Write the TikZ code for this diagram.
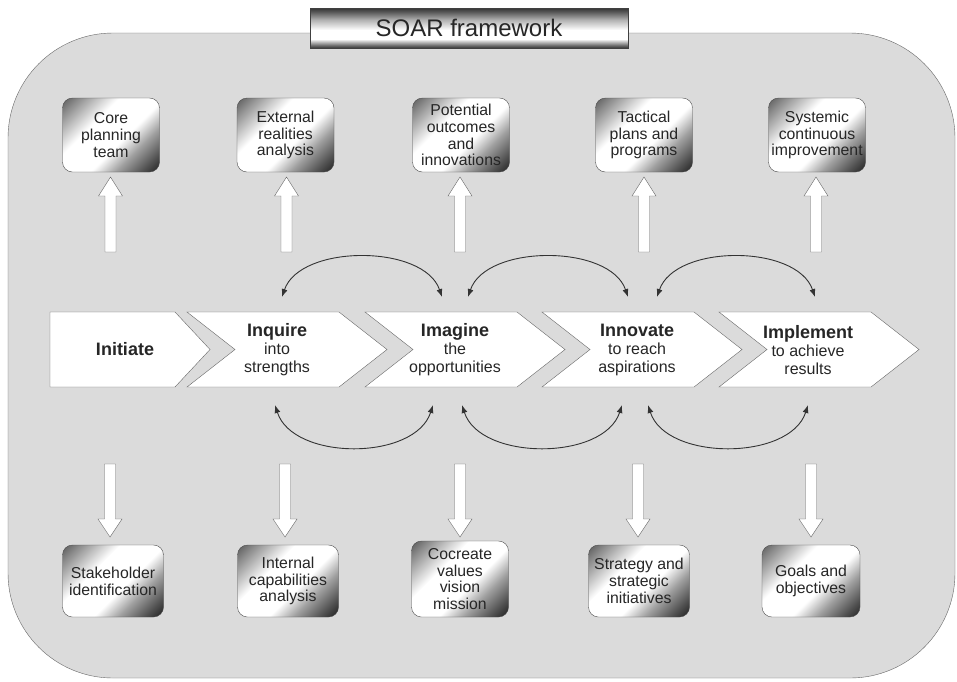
\documentclass[tikz,border=0pt]{standalone}
\usepackage{fontspec}
\setmainfont{Liberation Sans}
\usetikzlibrary{arrows.meta}

\colorlet{soarBg}   {black!14}
\colorlet{soarEdge} {black!60}
\colorlet{soarInk}  {black!85}

% diagonal metal for the boxes (runs corner to corner, 121bp)
\pgfdeclarehorizontalshading{metal}{130bp}{color(0bp)=(black!65); color(12bp)=(black!45);
  color(40bp)=(white); color(72bp)=(white); color(90bp)=(black!38); color(108bp)=(black!68);
  color(121bp)=(black!88)}
% chrome bar for the title (318bp x 40bp, from the bottom up)
\pgfdeclareverticalshading{chrome}{320bp}{color(0bp)=(black!80); color(3bp)=(black!55);
  color(9bp)=(white); color(18bp)=(white); color(28bp)=(black!30); color(36bp)=(black!65);
  color(40bp)=(black!80)}

\newcommand\stagehead{\fontsize{18}{18}\selectfont\bfseries}

\begin{document}
\begin{tikzpicture}[x=1pt, y=-1pt,
    outbox/.style={draw=black!70, rounded corners=10pt, minimum width=97pt, minimum height=74pt,
      path picture={\node[inner sep=0pt, rotate=-45] at (path picture bounding box.center) {\pgfuseshading{metal}};},
      inner sep=1pt, align=center, text=soarInk, font=\fontsize{15.8}{16.7}\selectfont},
    stage/.style={draw=soarEdge, fill=white},
    stagetxt/.style={align=center, inner sep=0pt, text=soarInk, font=\fontsize{16}{18}\selectfont},
    blockarrow/.style={draw=soarEdge, fill=white},
    arcarrow/.style={draw=black!80, line width=0.9pt, >={Latex[length=8pt,width=6pt]}, <->}]
    \useasboundingbox (0,0) rectangle (957,681);
    %--- Bakgrunn og tittel ---
    \draw[draw=soarEdge, fill=soarBg, rounded corners=105pt] (8,33) rectangle (955,678);
    \node[draw=black!75, minimum width=318pt, minimum height=40pt,
      path picture={\node[inner sep=0pt] at (path picture bounding box.center) {\pgfuseshading{chrome}};},
      inner sep=0pt, text=soarInk, font=\fontsize{24}{28}\selectfont] (title) at (469,28) {SOAR framework};
    %--- Faser ---
    \draw[stage] (50,312) -- (175,312) -- (210,349.5) -- (175,387) -- (50,387) -- cycle;
    \foreach \x in {187,365,542,719}
      \draw[stage] (\x,312) -- ++(152,0) -- ++(48,37.5) -- ++(-48,37.5) -- ++(-152,0) -- ++(48,-37.5) -- cycle;
    \node[stagetxt, font=\stagehead] (initiate) at (125,349) {Initiate};
    \node[stagetxt] (inquire) at (277,350) {{\stagehead Inquire}\\into\\strengths};
    \node[stagetxt] (imagine) at (455,350) {{\stagehead Imagine}\\the\\opportunities};
    \node[stagetxt] (innovate) at (637,350) {{\stagehead Innovate}\\to reach\\aspirations};
    \node[stagetxt] (implement) at (808,350) {{\stagehead Implement}\\to achieve\\results};
    %--- Resultatbokser oppe ---
    \node[outbox] (core) at (111,135) {Core\\planning\\team};
    \node[outbox] (external) at (285.5,135) {External\\realities\\analysis};
    \node[outbox] (potential) at (461,135) {Potential\\outcomes\\and\\innovations};
    \node[outbox] (tactical) at (644,135) {Tactical\\plans and\\programs};
    \node[outbox] (systemic) at (817,135) {Systemic\\continuous\\improvement};
    %--- Resultatbokser nede ---
    \node[outbox, minimum width=101pt, minimum height=72pt] (stakeholder) at (113,581) {Stakeholder\\identification};
    \node[outbox, minimum width=101pt, minimum height=72pt] (internal) at (288,581) {Internal\\capabilities\\analysis};
    \node[outbox, minimum width=97pt, minimum height=76pt] (cocreate) at (460,579) {Cocreate\\values\\vision\\mission};
    \node[outbox, minimum width=101pt, minimum height=72pt] (strategy) at (639,581) {Strategy and\\strategic\\initiatives};
    \node[outbox, minimum width=98pt, minimum height=72pt] (goals) at (811,581) {Goals and\\objectives};
    %--- Blokkpiler ---
    \foreach \x in {110.5,286.5,460,644,816}
      \draw[blockarrow] (\x-5.5,252) -- (\x-5.5,196) -- (\x-12,196) -- (\x,177) -- (\x+12,196) -- (\x+5.5,196) -- (\x+5.5,252) -- cycle;
    \foreach \x in {110,285,460,638,811}
      \draw[blockarrow] (\x-5.5,464) -- (\x-5.5,519) -- (\x-12,519) -- (\x,537) -- (\x+12,519) -- (\x+5.5,519) -- (\x+5.5,464) -- cycle;
    %--- Ankerpunkter for buene ---
    \coordinate (inqN)  at (282,297);
    \coordinate (imgNl) at (442,297);
    \coordinate (imgNr) at (468,297);
    \coordinate (innNl) at (628,297);
    \coordinate (innNr) at (657,297);
    \coordinate (impN)  at (815,297);
    \coordinate (inqS)  at (275,405);
    \coordinate (imgSl) at (433,405);
    \coordinate (imgSr) at (462,405);
    \coordinate (innSl) at (622,405);
    \coordinate (innSr) at (648,405);
    \coordinate (impS)  at (808,405);
    %--- Buer ---
    \foreach \a/\b in {inqN/imgNl, imgNr/innNl, innNr/impN}
      \draw[arcarrow] (\a) .. controls +(18,-53) and +(-18,-53) .. (\b);
    \foreach \a/\b in {inqS/imgSl, imgSr/innSl, innSr/impS}
      \draw[arcarrow] (\a) .. controls +(18,56) and +(-18,56) .. (\b);
  \end{tikzpicture}
\end{document}
